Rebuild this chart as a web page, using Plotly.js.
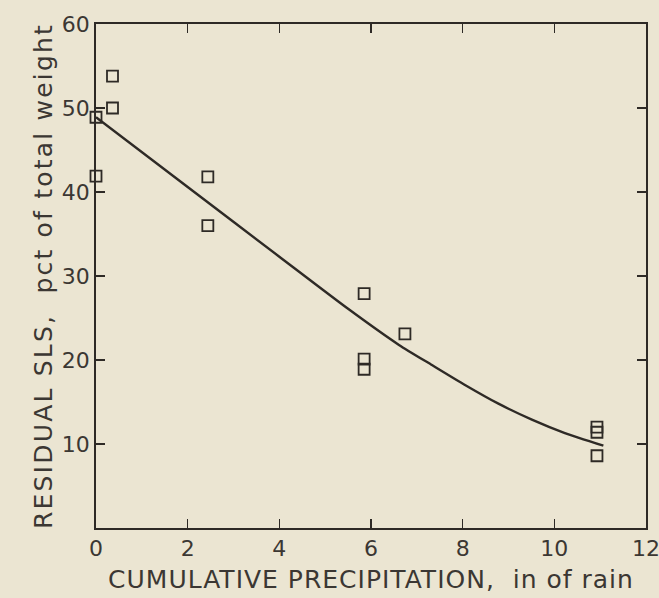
<!DOCTYPE html>
<html>
<head>
<meta charset="utf-8">
<script src="https://cdn.plot.ly/plotly-3.0.1.min.js"></script>
<style>
html,body{margin:0;padding:0;background:#ebe5d2;}
#chart{width:659px;height:598px;}
.ytitle{letter-spacing:2.2px;}
.xtitle{letter-spacing:1px;}
</style>
</head>
<body>
<div id="chart"></div>
<script>
// Observed samples: cumulative precipitation (in of rain) vs residual SLS (pct of total weight)
const sampleX = [0, 0, 0.36, 0.36, 2.44, 2.44, 5.85, 5.85, 5.85, 6.74, 10.93, 10.93, 10.93];
const sampleY = [48.9, 41.9, 53.8, 50.0, 41.8, 36.0, 27.9, 20.1, 18.9, 23.1, 12.0, 11.4, 8.6];

// Fitted curve
const curveX = [0, 2.0, 4.0, 5.5, 6.61, 7.33, 8.06, 8.78, 9.51, 10.23, 11.07];
const curveY = [48.9, 40.6, 32.3, 26.1, 21.8, 19.4, 17.0, 14.8, 12.9, 11.3, 9.8];

const xTicks = [0, 2, 4, 6, 8, 10, 12];
const xTickText = ["0", "2", "4", "6", "8", "10", "12"];
const yTicks = [10, 20, 30, 40, 50, 60];
const yTickText = ["10", "20", "30", "40", "50", "60"];

const ink = "#2e2a26";
const textInk = "#3b3733";
const font = "DejaVu Sans, Verdana, sans-serif";

const traces = [
  {
    x: curveX, y: curveY, type: "scatter", mode: "lines",
    line: {color: ink, width: 2.4, shape: "spline", smoothing: 0.6},
    hoverinfo: "skip", showlegend: false
  },
  {
    x: sampleX, y: sampleY, type: "scatter", mode: "markers",
    marker: {symbol: "square-open", size: 11, color: ink, line: {color: ink, width: 1.8}},
    showlegend: false, cliponaxis: false
  }
];

const axisCommon = {
  showgrid: false, zeroline: false,
  showline: true, linecolor: ink, linewidth: 1.8,
  mirror: "ticks", ticks: "inside", ticklen: 9, tickwidth: 1.5, tickcolor: ink,
  ticklabeloverflow: "allow",
  tickfont: {family: font, size: 22, color: textInk}
};

const layout = {
  width: 659, height: 598,
  paper_bgcolor: "#ebe5d2", plot_bgcolor: "#ebe5d2",
  margin: {l: 96, r: 13, t: 24, b: 70},
  xaxis: Object.assign({}, axisCommon, {
    range: [0, 12], tickvals: xTicks, ticktext: xTickText,
    title: {text: "CUMULATIVE PRECIPITATION,  in of rain", font: {family: font, size: 25, color: textInk}, standoff: 10}
  }),
  yaxis: Object.assign({}, axisCommon, {
    range: [0, 60], tickvals: yTicks, ticktext: yTickText,
    title: {text: "RESIDUAL SLS,  pct of total weight\u00A0\u00A0\u00A0", font: {family: font, size: 25, color: textInk}, standoff: 2}
  })
};

Plotly.newPlot("chart", traces, layout, {displayModeBar: false, staticPlot: true});
</script>
</body>
</html>
